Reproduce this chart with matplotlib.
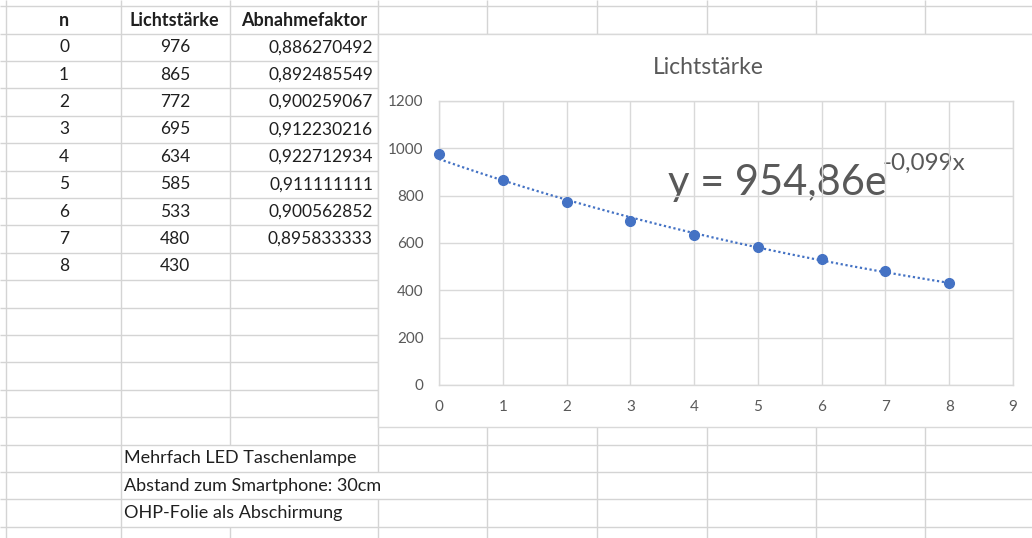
import numpy as np
import matplotlib
matplotlib.use('Agg')
import matplotlib.pyplot as plt
from matplotlib.patches import Rectangle

plt.rcParams['font.family'] = ['Lato', 'DejaVu Sans']

# spreadsheet content
headers = ['n', 'Lichtstärke', 'Abnahmefaktor']
n = [0, 1, 2, 3, 4, 5, 6, 7, 8]
lichtstaerke = [976, 865, 772, 695, 634, 585, 533, 480, 430]
abnahmefaktor = ['0,886270492', '0,892485549', '0,900259067', '0,912230216',
                 '0,922712934', '0,911111111', '0,900562852', '0,895833333']
notes = ['Mehrfach LED Taschenlampe', 'Abstand zum Smartphone: 30cm',
         'OHP-Folie als Abschirmung']

# chart content
chart_title = 'Lichtstärke'
x_ticks = [0, 1, 2, 3, 4, 5, 6, 7, 8, 9]
y_ticks = [0, 200, 400, 600, 800, 1000, 1200]
eq_main = 'y = 954,86e'
eq_exp = '-0,099x'

W, H = 1032, 538
fig = plt.figure(figsize=(W / 100, H / 100), dpi=100)

# sheet layer, in pixel units
bg = fig.add_axes([0, 0, 1, 1])
bg.set_xlim(0, W)
bg.set_ylim(H, 0)
bg.axis('off')

grid_c = '#d4d4d4'
col_x = [6, 120.5, 230, 378, 487, 597, 707, 816, 925, 1034]
row0 = 33.5
rh = 27.4
header_y = 20

def row_top(i):
    return row0 + rh * i

def row_mid(i):
    return row0 + rh * (i + 0.5)

# horizontal cell lines
bg.hlines([6] + [row_top(k) for k in range(19)], 0, W, color=grid_c, lw=1, zorder=1)

# vertical cell lines (hidden where the notes overflow)
note_rows = [15, 16, 17]
for cx in col_x:
    if cx == 230:
        bg.vlines(cx, 0, row_top(note_rows[0]), color=grid_c, lw=1, zorder=1)
        bg.vlines(cx, row_top(note_rows[-1] + 1), H, color=grid_c, lw=1, zorder=1)
    elif cx == 378:
        bg.vlines(cx, 0, row_top(16), color=grid_c, lw=1, zorder=1)
        bg.vlines(cx, row_top(17), H, color=grid_c, lw=1, zorder=1)
    else:
        bg.vlines(cx, 0, H, color=grid_c, lw=1, zorder=1)

txt_c = '#1f1f1f'
fs = 12.5
# header
bg.text(63.5, header_y, headers[0], ha='center', va='center', fontsize=13,
        fontweight='bold', color=txt_c, zorder=2)
bg.text(174, header_y, headers[1], ha='center', va='center', fontsize=13,
        fontweight='bold', color=txt_c, zorder=2)
bg.text(304, header_y, headers[2], ha='center', va='center', fontsize=13,
        fontweight='bold', color=txt_c, zorder=2)

for i, (k, v) in enumerate(zip(n, lichtstaerke)):
    bg.text(64, row_mid(i), str(k), ha='center', va='center', fontsize=fs,
            color=txt_c, zorder=2)
    bg.text(175, row_mid(i), str(v), ha='center', va='center', fontsize=fs,
            color=txt_c, zorder=2)
for i, f in enumerate(abnahmefaktor):
    bg.text(373, row_mid(i), f, ha='right', va='center', fontsize=fs,
            color=txt_c, zorder=2)
for i, s in enumerate(notes):
    bg.text(124, row_mid(note_rows[i]), s, ha='left', va='center', fontsize=13,
            color=txt_c, zorder=2)

# chart box
bg.add_patch(Rectangle((378, 34), 700, 393, facecolor='white',
                       edgecolor='#d9d9d9', lw=1, zorder=3))
gray = '#595959'
bg.text(708, 67, chart_title, ha='center', va='center', fontsize=16.5,
        color=gray, zorder=6)
eq = bg.text(668, 195, eq_main, ha='left', va='baseline', fontsize=30,
             color=gray, zorder=6)
bg.annotate(eq_exp, xy=(1, 170), xycoords=(eq, 'data'), xytext=(-3, 0),
            textcoords='offset points', ha='left', va='baseline',
            fontsize=17.5, color=gray, zorder=6)

# scatter plot with exponential trendline
ax = fig.add_axes([439 / W, 1 - 385 / H, (1013 - 439) / W, (385 - 101) / H])
ax.patch.set_alpha(0)
ax.set_xlim(0, 9)
ax.set_ylim(0, 1200)
ax.set_xticks(x_ticks)
ax.set_yticks(y_ticks)
ax.grid(True, color='#d9d9d9', lw=1)
ax.set_axisbelow(True)
for sp in ax.spines.values():
    sp.set_color('#d9d9d9')
    sp.set_linewidth(1)
ax.tick_params(length=0, labelsize=11, labelcolor=gray, pad=11)

b, ln_a = np.polyfit(n, np.log(lichtstaerke), 1)
xs = np.linspace(n[0], n[-1], 200)
ax.plot(xs, np.exp(ln_a) * np.exp(b * xs), color='#4472C4', lw=1.6,
        linestyle=(0, (1, 1.2)), zorder=3)
ax.plot(n, lichtstaerke, 'o', color='#4472C4', markersize=7, zorder=4,
        clip_on=False)

fig.savefig('out.png', dpi=100)
